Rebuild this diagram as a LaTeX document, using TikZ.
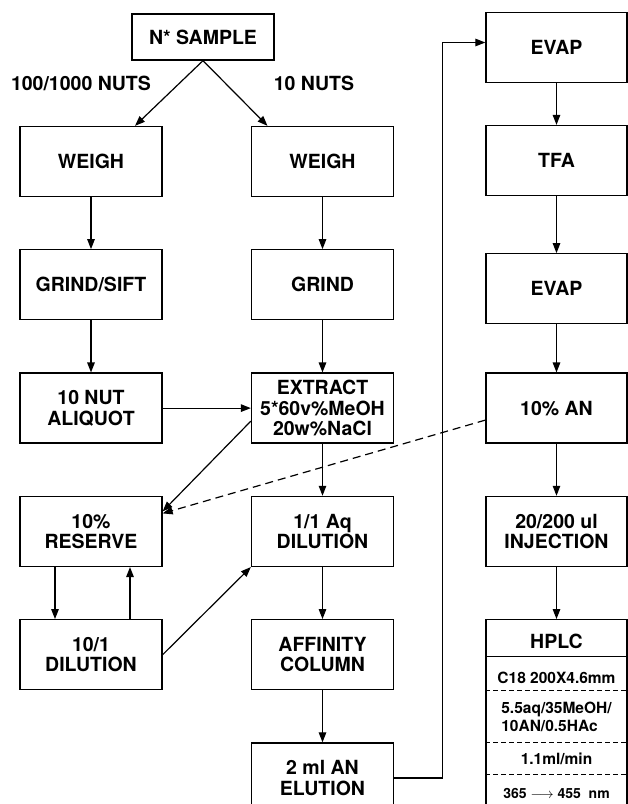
\documentclass[tikz,border=0pt]{standalone}
\usepackage{fontspec}
\setmainfont{TeX Gyre Heros}
\usetikzlibrary{positioning,arrows.meta}

\begin{document}
\begin{tikzpicture}[x=1pt,y=-1pt,
  node distance=52pt,
  bx/.style={draw,line width=1.3pt,minimum width=142pt,minimum height=70pt,
    align=center,inner sep=2pt,font=\bfseries\fontsize{19.5}{20.5}\selectfont},%
  lb/.style={font=\bfseries\fontsize{19.5}{20.5}\selectfont},%
  sm/.style={font=\bfseries\fontsize{15.5}{18}\selectfont,align=left},%
  e/.style={-{Triangle[length=10pt,width=7.5pt]},line width=1.2pt},%
  d/.style={e,dash pattern=on 8pt off 5pt},%
  sep/.style={line width=1pt,dash pattern=on 5pt off 3pt},%
  ]
  \clip (0,0) rectangle (628,804);

  \node (sample) [bx,minimum height=46pt] at (203,37) {N* SAMPLE};
  \node (lbl100) [lb] at (81,83) {100/1000 NUTS};
  \node (lbl10) [lb] at (314,83) {10 NUTS};

  \node (weighL) [bx] at (91,161.5) {WEIGH};
  \node (grindsift) [bx,below=of weighL] {GRIND/SIFT};
  \node (aliquot) [bx,below=of grindsift] {10 NUT\\ALIQUOT};
  \node (reserve) [bx,below=of aliquot] {10\%\\RESERVE};
  \node (dil10) [bx,below=of reserve] {10/1\\DILUTION};

  \node (weighM) [bx] at (322.5,161.5) {WEIGH};
  \node (grind) [bx,below=of weighM] {GRIND};
  \node (extract) [bx,below=of grind] {EXTRACT\\5*60v\%MeOH\\20w\%NaCl};
  \node (dil1) [bx,below=of extract] {1/1 Aq\\DILUTION};
  \node (affinity) [bx,below=of dil1] {AFFINITY\\COLUMN};
  \node (elution) [bx,below=of affinity] {2 ml AN\\ELUTION};

  \node (evapA) [bx,minimum width=141pt] at (556.5,47.5) {EVAP};
  \node (tfa) [bx,minimum width=141pt] at (556.5,160.5) {TFA};
  \node (evapB) [bx,minimum width=141pt,below=57pt of tfa] {EVAP};
  \node (an) [bx,minimum width=141pt,below=48pt of evapB] {10\% AN};
  \node (inj) [bx,minimum width=141pt,below=of an] {20/200 ul\\INJECTION};
  \node (hplc) [bx,minimum width=141pt,minimum height=210pt,below=of inj] {};

  \node (hplctit) [lb] at ([yshift=-22pt]hplc.north) {HPLC};
  \draw [line width=1pt] ([yshift=-37pt]hplc.north west) -- ([yshift=-37pt]hplc.north east);
  \node (col) [sm] at ([yshift=-58.5pt]hplc.north) {C18 200X4.6mm};
  \draw [sep] ([yshift=-71pt]hplc.north west) -- ([yshift=-71pt]hplc.north east);
  \node (mob) [sm] at ([yshift=-97.5pt]hplc.north) {5.5aq/35MeOH/\\10AN/0.5HAc};
  \draw [sep] ([yshift=-123pt]hplc.north west) -- ([yshift=-123pt]hplc.north east);
  \node (flow) [sm] at ([yshift=-139.5pt]hplc.north) {1.1ml/min};
  \draw [sep] ([yshift=-155.5pt]hplc.north west) -- ([yshift=-155.5pt]hplc.north east);
  \node (wave) [sm,font=\bfseries\fontsize{14}{16}\selectfont] at ([yshift=-174.5pt]hplc.north)
    {365 $\longrightarrow$ 455\ \ nm};

  \draw [e] (sample.south) -- ([xshift=44pt]weighL.north);
  \draw [e] (sample.south) -- ([xshift=-55pt]weighM.north);
  \draw [e] (weighL) -- (grindsift);
  \draw [e] (grindsift) -- (aliquot);
  \draw [e] (weighM) -- (grind);
  \draw [e] (grind) -- (extract);
  \draw [e] (extract) -- (dil1);
  \draw [e] (dil1) -- (affinity);
  \draw [e] (affinity) -- (elution);
  \draw [e] (aliquot) -- (extract);
  \draw [e] ([yshift=-13pt]extract.west) -- ([yshift=20pt]reserve.east);
  \draw [d] ([yshift=-12pt]an.west) -- ([yshift=18pt]reserve.east);
  \draw [e] ([xshift=-36pt]reserve.south) -- ([xshift=-36pt]dil10.north);
  \draw [e] ([xshift=39pt]dil10.north) -- ([xshift=39pt]reserve.south);
  \draw [e] (dil10.east) -- (dil1.south west);
  \draw [e] (elution.east) -- ++(48pt,0) |- ([yshift=5pt]evapA.west);
  \draw [e] (evapA) -- (tfa);
  \draw [e] (tfa) -- (evapB);
  \draw [e] (evapB) -- (an);
  \draw [e] (an) -- (inj);
  \draw [e] (inj) -- (hplc);
\end{tikzpicture}
\end{document}
